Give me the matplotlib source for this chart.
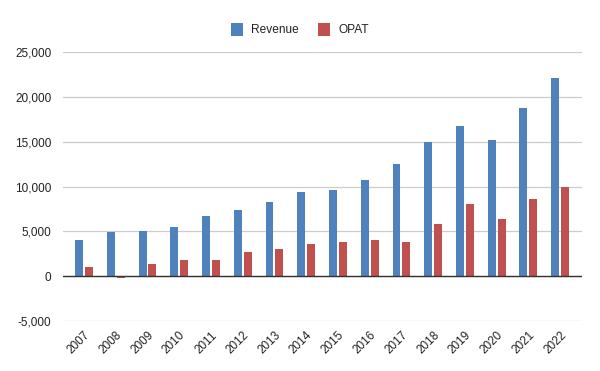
import numpy as np
import matplotlib.pyplot as plt
from matplotlib.ticker import FuncFormatter

plt.rcParams['font.family'] = ['Liberation Sans', 'DejaVu Sans']

# data
years = ['2007', '2008', '2009', '2010', '2011', '2012', '2013', '2014',
         '2015', '2016', '2017', '2018', '2019', '2020', '2021', '2022']
revenue = [4050, 4950, 5050, 5500, 6700, 7400, 8250, 9400,
           9600, 10720, 12500, 14940, 16800, 15240, 18800, 22130]
opat = [1020, -250, 1390, 1830, 1830, 2690, 3050, 3610,
        3830, 4050, 3830, 5830, 8050, 6390, 8610, 9940]

biru = '#4F81BD'
merah = '#C0504D'

fig = plt.figure(figsize=(6, 3.71), dpi=100)
ax = fig.add_axes([0.1045, 0.1348, 0.865, 0.725])

x = np.arange(len(years))
lebar = 0.25
ax.bar(x - 0.155, revenue, lebar, color=biru, label='Revenue', zorder=3)
ax.bar(x + 0.155, opat, lebar, color=merah, label='OPAT', zorder=3)

ax.set_xlim(-0.67, len(years) - 1 + 0.68)
ax.set_ylim(-5000, 25000)
ax.set_yticks(np.arange(-5000, 25001, 5000))
ax.yaxis.set_major_formatter(FuncFormatter(lambda v, p: f'{int(v):,}'))
ax.grid(axis='y', color='#cccccc', linewidth=0.9, zorder=0)
ax.axhline(0, color='#333333', linewidth=1.0, zorder=4)

ax.set_xticks(x)
ax.set_xticklabels(years, rotation=45, ha='right', rotation_mode='anchor')
ax.tick_params(axis='both', length=0, labelsize=8.5, colors='#222222')
ax.tick_params(axis='y', pad=8)
ax.tick_params(axis='x', pad=6)

for s in ax.spines.values():
    s.set_visible(False)

fig.legend(loc='center', bbox_to_anchor=(0.5, 0.92), ncol=2, frameon=False,
           fontsize=8.6, handlelength=1.0, handleheight=1.25,
           columnspacing=1.6, handletextpad=0.7, labelcolor='#222222')

plt.savefig('out.png', dpi=100)
